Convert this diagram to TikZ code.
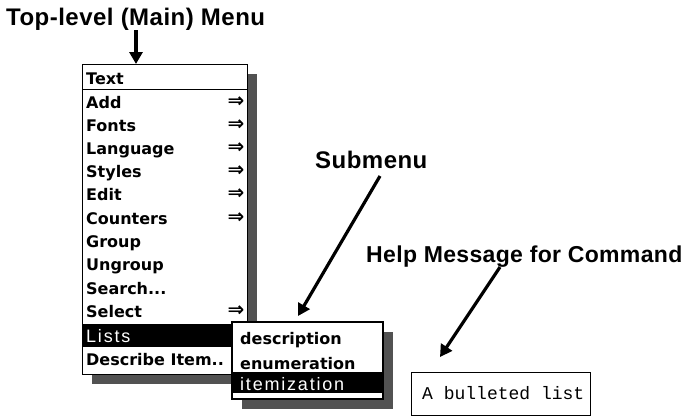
\documentclass[tikz,border=0pt]{standalone}
\usepackage{fontspec}
\setmainfont{Liberation Sans}
\newfontfamily\symfont{DejaVu Sans}
\newfontfamily\typefont{Liberation Mono}
\usetikzlibrary{arrows.meta}
\begin{document}
\begin{tikzpicture}[x=1pt,y=-1pt,
  heading/.style={font=\fontsize{24}{24}\selectfont\bfseries\addfontfeature{LetterSpace=2}, inner sep=0, anchor=base west},
  smallheading/.style={heading, font=\fontsize{23}{23}\selectfont\bfseries\addfontfeature{LetterSpace=1.5}},
  menuitem/.style={font=\symfont\fontsize{16}{16}\selectfont\bfseries, inner sep=0, anchor=base west},
  hiitem/.style={font=\fontsize{18}{18}\selectfont\addfontfeature{LetterSpace=10}, text=white, inner sep=0, anchor=base west},
  cascade/.style={font=\symfont\fontsize{20}{20}\selectfont\bfseries, inner sep=0},
  frame/.style={draw, line width=1.1pt, fill=white, inner sep=0, anchor=north west},
  shade/.style={fill=black!68, draw=none, inner sep=0, anchor=north west},
  band/.style={fill=black},
  pointer/.style={line width=3.2pt, -{Triangle[length=12pt,width=13pt]}},
  helptext/.style={font=\typefont\fontsize{18}{18}\selectfont, inner sep=0, anchor=base west},
]
\useasboundingbox (0,0) rectangle (696,416);

% headings
\node[heading] (title) at (6,25) {Top-level (Main) Menu};
\node[heading] (sublabel) at (315,168) {Submenu};
\node[smallheading] (helplabel) at (366,262) {Help Message for Command};

% main menu
\node[shade, minimum width=165pt, minimum height=310pt] (mainshadow) at (92,74) {};
\node[frame, minimum width=165pt, minimum height=310pt] (mainmenu) at (82,64) {};
\draw[line width=1pt] (82,89) -- (247,89);
\fill[band] (82,323.5) rectangle (232,346.5);

\node[menuitem] (m0) at (86,84) {Text};
\node[menuitem] (m1) at (86,108) {Add};
\node[menuitem] (m2) at (86,131) {Fonts};
\node[menuitem] (m3) at (86,154) {Language};
\node[menuitem] (m4) at (86,177) {Styles};
\node[menuitem] (m5) at (86,200) {Edit};
\node[menuitem] (m6) at (86,224) {Counters};
\node[menuitem] (m7) at (86,247) {Group};
\node[menuitem] (m8) at (86,270) {Ungroup};
\node[menuitem] (m9) at (86,294) {Search...};
\node[menuitem] (m10) at (86,317) {Select};
\node[hiitem] (m11) at (86,342) {Lists};
\node[menuitem] (m12) at (86,365) {Describe Item..};

\node[cascade] (c1) at (236,102) {⇒};
\node[cascade] (c2) at (236,125) {⇒};
\node[cascade] (c3) at (236,148) {⇒};
\node[cascade] (c4) at (236,171) {⇒};
\node[cascade] (c5) at (236,194) {⇒};
\node[cascade] (c6) at (236,218) {⇒};
\node[cascade] (c10) at (236,311) {⇒};

% submenu
\node[shade, minimum width=151pt, minimum height=77pt] (subshadow) at (242,332) {};
\node[frame, minimum width=151pt, minimum height=77pt] (submenu) at (232,322) {};
\fill[band] (232,372) rectangle (383,393);
\draw[line width=1.1pt] (232,322) rectangle (383,399);
\node[menuitem] (s1) at (240,344) {description};
\node[menuitem] (s2) at (240,369) {enumeration};
\node[hiitem] (s3) at (240,390) {itemization};

% help box
\node[frame, minimum width=179pt, minimum height=43pt] (helpbox) at (411,372) {};
\node[helptext] (help) at (422,399) {A bulleted list};

% pointers
\coordinate (t1) at (136,30);
\coordinate (t2) at (380,176);
\coordinate (t3) at (500,267);
\coordinate (h2) at (298,316);
\coordinate (h3) at (440,357);
\draw[pointer] (t1) -- (mainmenu.north -| t1);
\draw[pointer] (t2) -- (h2);
\draw[pointer] (t3) -- (h3);
\end{tikzpicture}
\end{document}
